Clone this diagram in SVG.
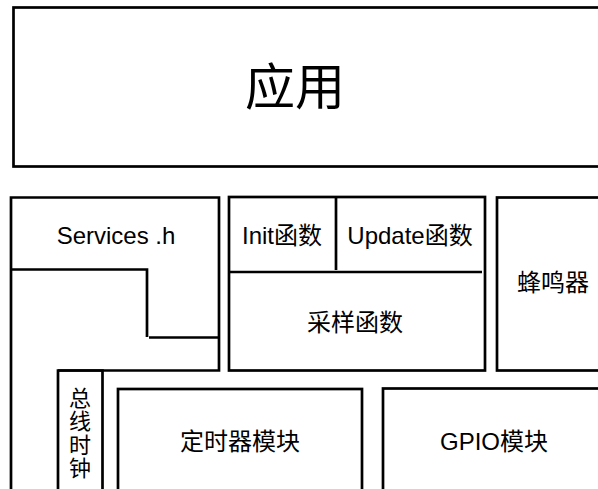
<svg xmlns="http://www.w3.org/2000/svg" width="598" height="489" viewBox="0 0 598 489">
<style>
.ln{fill:none;stroke:#000;stroke-width:2.7}
.t{font-family:"Liberation Sans","Noto Sans CJK SC",sans-serif;font-size:24px;fill:#000;text-anchor:middle;dominant-baseline:central}
</style>
<rect width="598" height="489" fill="#fff"/>
<g id="app">
<rect class="ln" x="13.5" y="7.5" width="620" height="159"/>
<text class="t" x="295" y="88" style="font-size:50px">应用</text>
</g>
<g id="services">
<path class="ln" d="M11,489 V197.5 H219 V370.5 H58"/>
<path class="ln" d="M11,269.5 H147 V337"/>
<path class="ln" d="M149,337.5 H219"/>
<text class="t" x="116" y="235">Services .h</text>
</g>
<g id="busclock">
<path class="ln" d="M58,489 V370.5 H102.5 V489"/>
<text class="t" x="80" y="398" style="font-size:22px">总</text>
<text class="t" x="80" y="421.5" style="font-size:22px">线</text>
<text class="t" x="80" y="445" style="font-size:22px">时</text>
<text class="t" x="80" y="468.5" style="font-size:22px">钟</text>
</g>
<g id="sampling">
<rect class="ln" x="229" y="197" width="256" height="173.5"/>
<path class="ln" d="M229,272 H482"/>
<text class="t" x="355" y="322">采样函数</text>
</g>
<g id="init">
<path class="ln" d="M336,197 V270"/>
<text class="t" x="282" y="235">Init函数</text>
</g>
<g id="update">
<text class="t" x="410" y="235">Update函数</text>
</g>
<g id="buzzer">
<rect class="ln" x="497" y="197.5" width="140" height="173"/>
<text class="t" x="553" y="282">蜂鸣器</text>
</g>
<g id="timer">
<rect class="ln" x="118" y="389" width="244" height="140"/>
<text class="t" x="240" y="441">定时器模块</text>
</g>
<g id="gpio">
<rect class="ln" x="383" y="388.5" width="240" height="140"/>
<text class="t" x="494" y="441">GPIO模块</text>
</g>
<g id="connectors"/>
</svg>
